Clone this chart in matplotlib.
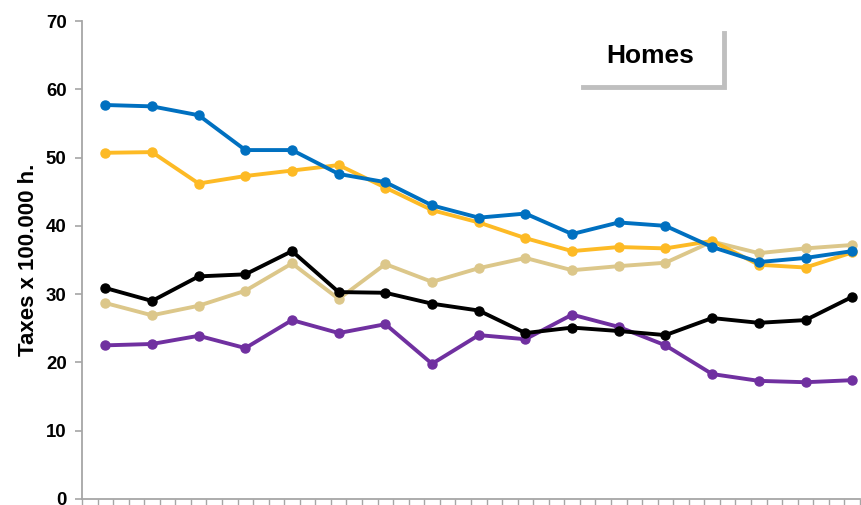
import matplotlib.pyplot as plt
import numpy as np
from matplotlib.lines import Line2D

plt.rcParams['font.family'] = ['Liberation Sans', 'DejaVu Sans']

# valores de cada serie (17 periodos)
azul = [57.7, 57.5, 56.2, 51.1, 51.1, 47.6, 46.4, 43.0, 41.2, 41.8, 38.8, 40.5, 40.0, 36.9, 34.7, 35.3, 36.3]
amarillo = [50.7, 50.8, 46.2, 47.3, 48.1, 48.9, 45.6, 42.3, 40.5, 38.2, 36.3, 36.9, 36.7, 37.8, 34.3, 33.9, 36.1]
beige = [28.7, 26.9, 28.3, 30.5, 34.5, 29.3, 34.4, 31.8, 33.8, 35.3, 33.5, 34.1, 34.6, 37.7, 36.0, 36.7, 37.2]
negro = [30.9, 29.0, 32.6, 32.9, 36.3, 30.3, 30.2, 28.6, 27.6, 24.3, 25.1, 24.6, 24.0, 26.5, 25.8, 26.2, 29.6]
morado = [22.5, 22.7, 23.9, 22.1, 26.2, 24.3, 25.6, 19.8, 24.0, 23.4, 27.0, 25.2, 22.5, 18.3, 17.3, 17.1, 17.4]

series = [
    (beige, '#DCC78A'),
    (morado, '#7030A0'),
    (negro, '#000000'),
    (amarillo, '#FDBA25'),
    (azul, '#0070C0'),
]

# cada punto cae en el centro de un grupo de 3 marcas del eje x
x = np.arange(len(azul)) * 3 + 1.5

fig = plt.figure(figsize=(8.61, 5.05), dpi=100)
ax = fig.add_axes([0.0952, 0.0119, 0.9036, 0.9465])

for valores, color in series:
    ax.plot(x, valores, color=color, linewidth=2.8, marker='o', markersize=6.5,
            solid_capstyle='round', clip_on=False)

ax.set_xlim(0, 50)
ax.set_ylim(0, 70)
ax.set_yticks(range(0, 71, 10))
ax.set_xticks(range(0, 51))
ax.set_xticklabels([])

for lado in ['top', 'right']:
    ax.spines[lado].set_visible(False)
for lado in ['left', 'bottom']:
    ax.spines[lado].set_color('#A6A6A6')
    ax.spines[lado].set_linewidth(1.3)

ax.tick_params(axis='y', direction='out', length=5, width=1.2, color='#A6A6A6',
               labelsize=13.4, pad=6)
ax.tick_params(axis='x', direction='out', length=6, width=1.0, color='#A6A6A6')
for lbl in ax.get_yticklabels():
    lbl.set_fontweight('bold')

ax.set_ylabel('Taxes x 100.000 h.', fontsize=16, fontweight='bold', labelpad=5)

# recuadro "Homes" con sombra gris en forma de L
fig.text(650 / 861, 1 - 56 / 505, 'Homes', fontsize=19, fontweight='bold',
         ha='center', va='center')
fig.add_artist(Line2D([583 / 861, 724 / 861, 724 / 861],
                      [1 - 87 / 505, 1 - 87 / 505, 1 - 33 / 505],
                      color='#BFBFBF', linewidth=3.5, solid_joinstyle='miter'))

fig.savefig('out.png', dpi=100)
